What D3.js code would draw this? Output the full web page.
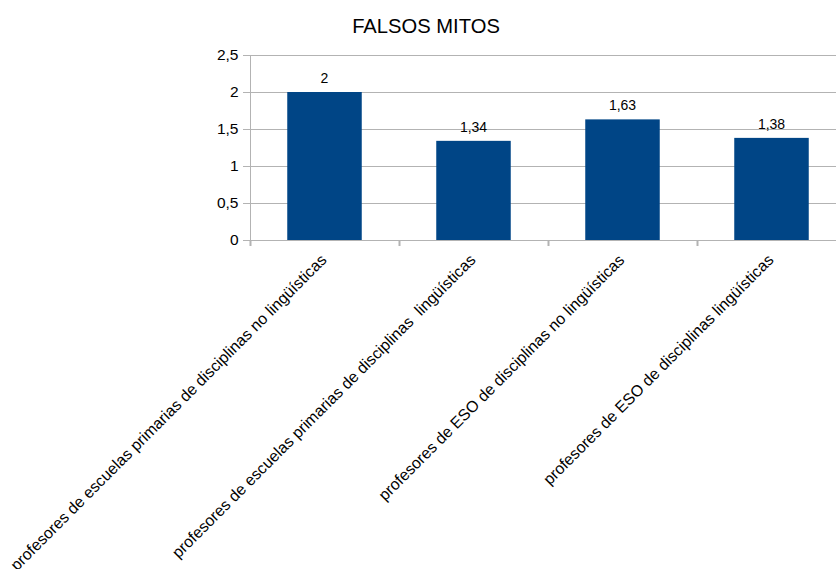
<!DOCTYPE html>
<html>
<head>
<meta charset="utf-8">
<script src="https://cdn.jsdelivr.net/npm/d3@7"></script>
<style>
  html, body { margin: 0; padding: 0; background: #fff; }
  svg { display: block; font-family: "Liberation Sans", Arial, sans-serif; }
</style>
</head>
<body>
<svg id="chart" width="836" height="569"></svg>
<script>
const categories = [
  "profesores de escuelas primarias de disciplinas no lingüísticas",
  "profesores de escuelas primarias de disciplinas  lingüísticas",
  "profesores de ESO de disciplinas no lingüísticas",
  "profesores de ESO de disciplinas lingüísticas"
];
const values = [2, 1.34, 1.63, 1.38];
const yTicks = [0, 0.5, 1, 1.5, 2, 2.5];
const title = "FALSOS MITOS";

const svg = d3.select("#chart");
const margin = { left: 250, top: 55, bottom: 240 };
const plotRight = 846;

const fmt = v => String(v).replace(".", ",");

const x = d3.scaleBand()
  .domain(categories)
  .range([margin.left, plotRight])
  .paddingInner(0.5)
  .paddingOuter(0.25);

const y = d3.scaleLinear()
  .domain([0, 2.5])
  .range([margin.bottom, margin.top]);

const gridColor = "#b3b3b3";

// horizontal gridlines (with short outward ticks)
svg.append("g")
  .selectAll("line")
  .data(yTicks)
  .join("line")
  .attr("x1", margin.left - 7)
  .attr("x2", plotRight)
  .attr("y1", d => Math.round(y(d)) + 0.5)
  .attr("y2", d => Math.round(y(d)) + 0.5)
  .attr("stroke", gridColor)
  .attr("stroke-width", 1);

// y axis
const yAxis = svg.append("g")
  .attr("transform", `translate(${margin.left + 0.5},0)`)
  .call(d3.axisLeft(y).tickValues(yTicks).tickFormat(fmt).tickSize(0).tickPadding(12));
yAxis.select(".domain").attr("stroke", gridColor).attr("d", `M0,${margin.top}V${margin.bottom + 0.5}`);
yAxis.selectAll("text")
  .attr("font-size", 15.5)
  .attr("fill", "#000")
  .attr("font-family", "'Liberation Sans', Arial, sans-serif");

// category ticks between bands
const bandStep = x.step();
const tickXs = d3.range(categories.length + 1).map(i => margin.left + i * bandStep);
svg.append("g")
  .selectAll("line")
  .data(tickXs)
  .join("line")
  .attr("x1", d => Math.round(d) + 0.5)
  .attr("x2", d => Math.round(d) + 0.5)
  .attr("y1", margin.bottom)
  .attr("y2", margin.bottom + 6)
  .attr("stroke", gridColor)
  .attr("stroke-width", 2);

// bars
svg.append("g")
  .selectAll("rect")
  .data(values)
  .join("rect")
  .attr("x", (d, i) => x(categories[i]))
  .attr("width", x.bandwidth())
  .attr("y", d => y(d))
  .attr("height", d => y(0) - y(d))
  .attr("fill", "#004586");

// value labels
svg.append("g")
  .selectAll("text")
  .data(values)
  .join("text")
  .attr("x", (d, i) => x(categories[i]) + x.bandwidth() / 2)
  .attr("y", d => y(d) - 9)
  .attr("text-anchor", "middle")
  .attr("font-size", 14)
  .attr("fill", "#000")
  .text(fmt);

// rotated category labels
svg.append("g")
  .selectAll("text")
  .data(categories)
  .join("text")
  .attr("transform", d => `translate(${x(d) + x.bandwidth() / 2 + 3},${margin.bottom + 21}) rotate(-45)`)
  .attr("text-anchor", "end")
  .attr("font-size", 15.9)
  .attr("fill", "#000")
  .style("white-space", "pre")
  .text(d => d);

// title
svg.append("text")
  .attr("x", 426)
  .attr("y", 33)
  .attr("text-anchor", "middle")
  .attr("font-size", 20.2)
  .attr("fill", "#000")
  .text(title);
</script>
</body>
</html>
